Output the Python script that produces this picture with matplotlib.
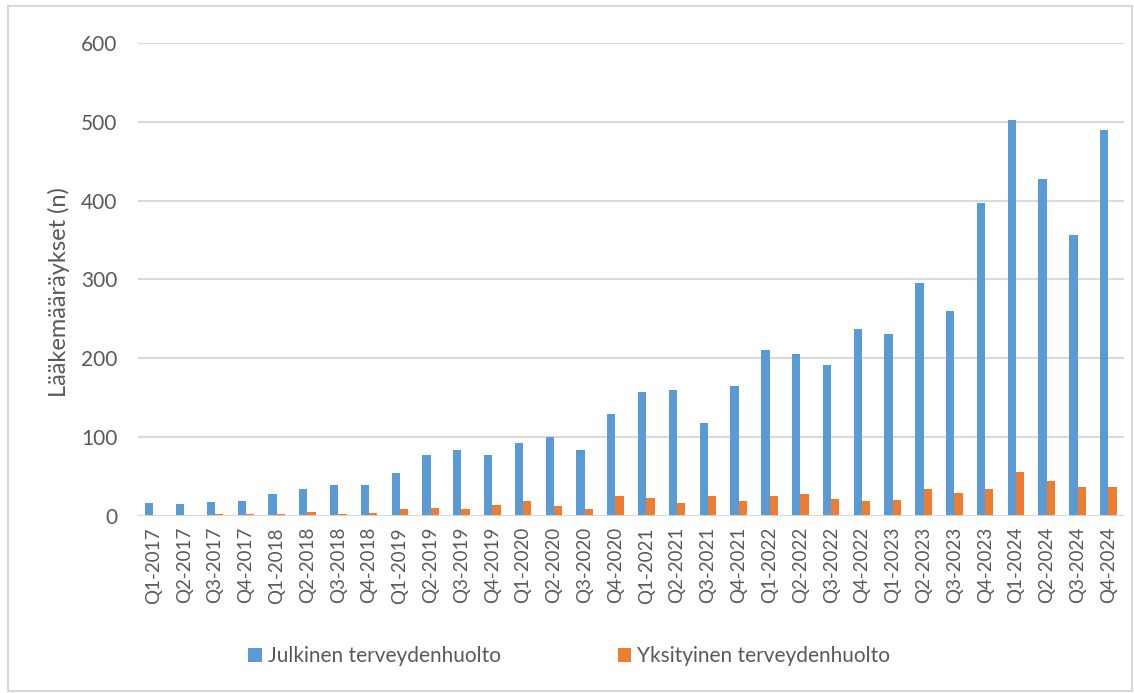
import matplotlib.pyplot as plt
import numpy as np
from matplotlib.patches import Rectangle

plt.rcParams["font.family"] = ["Lato", "DejaVu Sans"]

quarters = [f"Q{q}-{y}" for y in range(2017, 2025) for q in range(1, 5)]

julkinen = [17, 15, 18, 19, 28, 34, 39, 39,
            55, 78, 84, 77, 92, 100, 84, 130,
            157, 160, 118, 165, 211, 206, 191, 237,
            231, 296, 260, 397, 502, 428, 356, 490]
yksityinen = [0, 1.5, 3, 2, 2, 4.5, 3, 4,
              8.5, 10, 8.5, 14, 19, 13, 9, 25,
              23, 16, 26, 19, 26, 28, 21, 19,
              20, 34.5, 29, 34.5, 56, 44.5, 37, 37]

BLUE = "#5B9BD5"
ORANGE = "#ED7D31"
TEXT = "#595959"
GRID = "#D9D9D9"

fig = plt.figure(figsize=(11.34, 6.93), dpi=100)
ax = fig.add_axes([0.1217, 0.2554, 0.8693, 0.6826])

x = np.arange(len(quarters))
w = 0.27
ax.bar(x - w / 2, julkinen, width=w, color=BLUE, label="Julkinen terveydenhuolto", zorder=3)
ax.bar(x + w / 2, yksityinen, width=w, color=ORANGE, label="Yksityinen terveydenhuolto", zorder=3)

ax.set_xlim(-0.5, len(quarters) - 0.5)
ax.set_ylim(0, 600)
ax.set_yticks(range(0, 601, 100))
ax.yaxis.grid(True, color=GRID, linewidth=1.5, zorder=0)
ax.axhline(0, color=GRID, linewidth=2, zorder=4)
for s in ax.spines.values():
    s.set_visible(False)

ax.set_xticks(x)
ax.set_xticklabels(quarters, rotation=90, fontsize=13.5, color=TEXT)
ax.tick_params(axis="both", length=0)
ax.tick_params(axis="x", pad=8)
ax.tick_params(axis="y", labelsize=15, labelcolor=TEXT, pad=15)
ax.set_ylabel("Lääkemääräykset (n)", fontsize=17, color=TEXT)
ax.yaxis.set_label_coords(-0.069, 0.474)

fig.legend(loc="center", bbox_to_anchor=(0.502, 0.0534), ncol=2, frameon=False,
           fontsize=15, labelcolor=TEXT, handlelength=0.65, handleheight=0.65,
           handletextpad=0.3, columnspacing=5.6)

# thin frame around the whole chart
fig.add_artist(Rectangle((0.007, 0.003), 0.991, 0.988, transform=fig.transFigure,
                         fill=False, edgecolor=GRID, linewidth=1.5))

fig.savefig("out.png", dpi=100)
